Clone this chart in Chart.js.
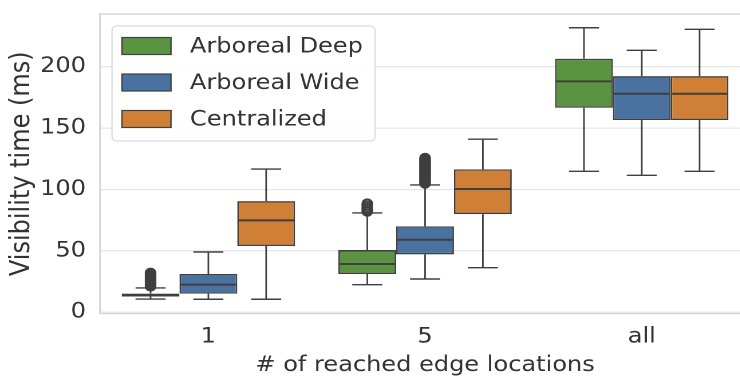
<!DOCTYPE html>
<html>
<head>
<meta charset="utf-8">
<script src="https://cdn.jsdelivr.net/npm/chart.js@4/dist/chart.umd.min.js"></script>
<style>
  html, body { margin: 0; padding: 0; background: #ffffff; width: 740px; height: 378px; overflow: hidden; }
  #wrap { position: relative; width: 752px; height: 378px; overflow: hidden; }
  /* the figure is drawn slightly narrow and widened to its final width */
  #chart { transform: scaleX(1.145); transform-origin: 0 0; }
</style>
</head>
<body>
<div id="wrap"><canvas id="chart"></canvas></div>
<script>
const STRETCH = 1.145;            // horizontal widening applied by CSS
const FIG_W = 752 / STRETCH;      // drawing width before widening
const FIG_H = 378;

// Categories on the x axis and the tick values on the y axis
const categories = ['1', '5', 'all'];
const yTicks = [0, 50, 100, 150, 200];

// Series names and fill colours
const seriesNames = ['Arboreal Deep', 'Arboreal Wide', 'Centralized'];
const seriesColors = ['#5a9442', '#4a72a1', '#cf8036'];

// Box statistics per series, one value per category (ms)
const deepLow    = [10.8, 22.5, 114.8];
const deepQ1     = [12.8, 31.2, 166.6];
const deepMedian = [13.8, 39.3, 188.1];
const deepQ3     = [15.2, 50.7, 206.5];
const deepHigh   = [19.8, 80.9, 231.8];
const deepOutliers = [
  [21.0, 21.8, 22.6, 23.5, 24.3, 25.2, 26.0, 26.9, 27.8, 28.7, 29.6, 30.5, 31.4, 32.2],
  [82.0, 83.2, 84.5, 85.8, 87.2, 88.6],
  []
];

const wideLow    = [10.6, 27.1, 111.6];
const wideQ1     = [15.2, 47.2, 156.6];
const wideMedian = [22.5, 59.1, 178.0];
const wideQ3     = [31.2, 70.0, 192.4];
const wideHigh   = [49.1, 103.7, 213.4];
const wideOutliers = [
  [],
  [104.8, 105.6, 106.5, 107.3, 108.2, 109.0, 109.9, 110.8, 111.6, 112.5, 113.4, 114.3, 115.1,
   116.0, 116.9, 117.8, 118.7, 119.6, 120.5, 121.4, 122.3, 123.2, 124.1, 125.0, 125.8],
  []
];

const centLow    = [10.6, 36.3, 114.8];
const centQ1     = [54.0, 80.0, 156.6];
const centMedian = [74.9, 100.4, 178.0];
const centQ3     = [90.6, 116.4, 192.4];
const centHigh   = [116.7, 141.0, 230.5];
const centOutliers = [[], [], []];

const stats = [
  { low: deepLow, q1: deepQ1, med: deepMedian, q3: deepQ3, high: deepHigh, out: deepOutliers },
  { low: wideLow, q1: wideQ1, med: wideMedian, q3: wideQ3, high: wideHigh, out: wideOutliers },
  { low: centLow, q1: centQ1, med: centMedian, q3: centQ3, high: centHigh, out: centOutliers }
];

const FONT = 'DejaVu Sans';
const TEXT = '#333333';
const LINE = '#3f3f3f';
const SPINE = '#d4d4d4';

const canvas = document.getElementById('chart');
canvas.width = FIG_W;
canvas.height = FIG_H;

// Boxes are floating bars spanning Q1..Q3
const datasets = stats.map((s, i) => ({
  label: seriesNames[i],
  data: s.q1.map((v, j) => [v, s.q3[j]]),
  backgroundColor: seriesColors[i],
  borderColor: LINE,
  borderWidth: 1.4,
  borderSkipped: false,
  categoryPercentage: 0.8,
  barPercentage: 1.0
}));

// Frame around the plotting area
const framePlugin = {
  id: 'frame',
  beforeDatasetsDraw(chart) {
    const { ctx, chartArea: a } = chart;
    ctx.save();
    ctx.strokeStyle = SPINE;
    ctx.lineWidth = 1.4;
    ctx.strokeRect(a.left, a.top, a.right - a.left, a.bottom - a.top);
    ctx.restore();
  }
};

// Whiskers, caps, medians and outlier markers
const boxPartsPlugin = {
  id: 'boxParts',
  afterDatasetsDraw(chart) {
    const { ctx } = chart;
    const y = chart.scales.y;
    ctx.save();
    ctx.strokeStyle = LINE;
    stats.forEach((s, di) => {
      const meta = chart.getDatasetMeta(di);
      meta.data.forEach((bar, i) => {
        const x = bar.x;
        const w = bar.width;
        const capW = w * 0.52;
        ctx.lineWidth = 1.4;
        ctx.beginPath();
        ctx.moveTo(x, y.getPixelForValue(s.q1[i]));
        ctx.lineTo(x, y.getPixelForValue(s.low[i]));
        ctx.moveTo(x - capW / 2, y.getPixelForValue(s.low[i]));
        ctx.lineTo(x + capW / 2, y.getPixelForValue(s.low[i]));
        ctx.moveTo(x, y.getPixelForValue(s.q3[i]));
        ctx.lineTo(x, y.getPixelForValue(s.high[i]));
        ctx.moveTo(x - capW / 2, y.getPixelForValue(s.high[i]));
        ctx.lineTo(x + capW / 2, y.getPixelForValue(s.high[i]));
        ctx.stroke();
        ctx.lineWidth = 2;
        ctx.beginPath();
        const my = y.getPixelForValue(s.med[i]);
        ctx.moveTo(x - w / 2 + 1, my);
        ctx.lineTo(x + w / 2 - 1, my);
        ctx.stroke();
        ctx.lineWidth = 1.6;
        s.out[i].forEach(v => {
          ctx.beginPath();
          ctx.arc(x, y.getPixelForValue(v), 4.3, 0, Math.PI * 2);
          ctx.stroke();
        });
      });
    });
    ctx.restore();
  }
};

// Legend box inside the plotting area
const legendPlugin = {
  id: 'innerLegend',
  afterDraw(chart) {
    const { ctx, chartArea: a } = chart;
    const x0 = a.left + 10.5, y0 = a.top + 12, w = 229.7, h = 115;
    ctx.save();
    ctx.fillStyle = 'rgba(255,255,255,0.85)';
    ctx.strokeStyle = '#dcdcdc';
    ctx.lineWidth = 1.2;
    ctx.beginPath();
    ctx.roundRect(x0, y0, w, h, 4);
    ctx.fill();
    ctx.stroke();
    ctx.font = `21px "${FONT}"`;
    ctx.textBaseline = 'middle';
    chart.data.datasets.forEach((ds, i) => {
      const cy = y0 + 20 + i * 36.5;
      ctx.fillStyle = ds.backgroundColor;
      ctx.fillRect(x0 + 8.7, cy - 8.5, 42.8, 17);
      ctx.strokeStyle = LINE;
      ctx.lineWidth = 1.2;
      ctx.strokeRect(x0 + 8.7, cy - 8.5, 42.8, 17);
      ctx.fillStyle = TEXT;
      ctx.fillText(ds.label, x0 + 68.1, cy + 1);
    });
    ctx.restore();
  }
};

new Chart(canvas, {
  type: 'bar',
  data: { labels: categories, datasets },
  options: {
    responsive: false,
    animation: false,
    devicePixelRatio: 2,
    layout: { padding: { top: 14, right: 1 / STRETCH, left: 0, bottom: 0 } },
    plugins: { legend: { display: false }, tooltip: { enabled: false } },
    scales: {
      x: {
        grid: { display: false, drawTicks: false },
        border: { display: false },
        ticks: { color: TEXT, font: { family: FONT, size: 21 }, padding: 11 },
        title: { display: true, text: '# of reached edge locations', color: TEXT,
                 font: { family: FONT, size: 21 }, padding: { top: 0, bottom: 0 } },
        afterFit(scale) {
          scale.height = 64.5;
          scale.paddingLeft = 0; scale.paddingRight = 0;
        }
      },
      y: {
        min: -1, max: 243,
        afterBuildTicks(scale) { scale.ticks = yTicks.map(v => ({ value: v })); },
        grid: { color: '#e6e6e6', lineWidth: 1.3, drawTicks: false },
        border: { display: false },
        ticks: { color: TEXT, font: { family: FONT, size: 21 }, padding: 12.2 },
        title: { display: true, text: 'Visibility time (ms)', color: TEXT,
                 font: { family: FONT, size: 24 }, padding: { top: 5, bottom: 0 } },
        afterFit(scale) {
          scale.width = 100 / STRETCH;
          scale.paddingTop = 0; scale.paddingBottom = 0;
        }
      }
    }
  },
  plugins: [framePlugin, boxPartsPlugin, legendPlugin]
});
</script>
</body>
</html>
